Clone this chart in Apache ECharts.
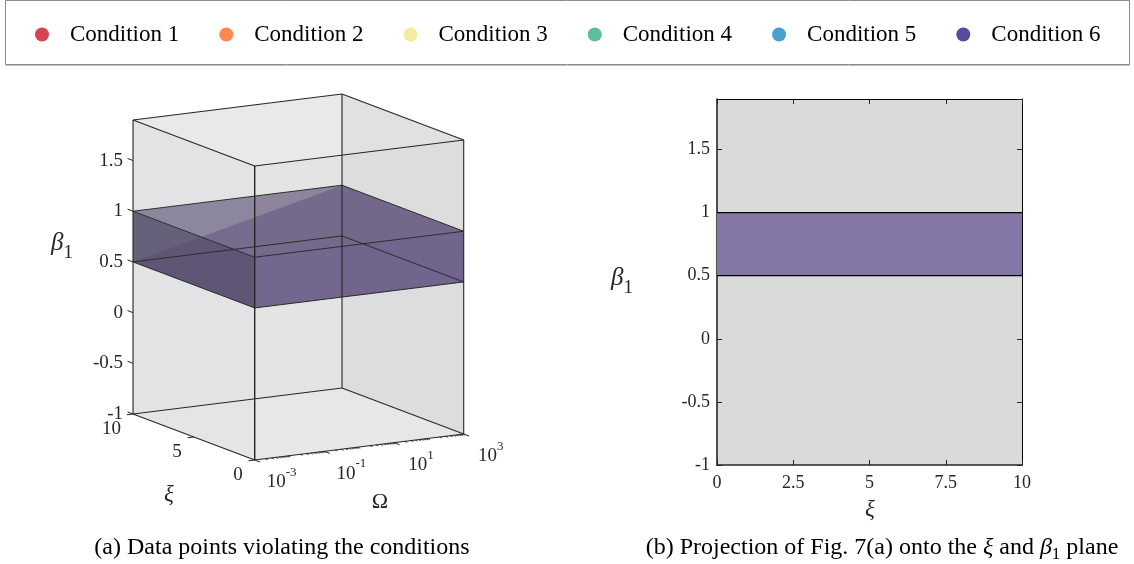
<!DOCTYPE html>
<html>
<head>
<meta charset="utf-8">
<script src="https://cdn.jsdelivr.net/npm/echarts@6/dist/echarts.min.js"></script>
<style>
  html, body { margin: 0; padding: 0; background: #fff; }
  #chart { width: 1134px; height: 564px; }
</style>
</head>
<body>
<div id="chart"></div>
<script>
// ---- data ----
const conditionNames = ['Condition 1', 'Condition 2', 'Condition 3', 'Condition 4', 'Condition 5', 'Condition 6'];
const conditionColors = ['#d9434f', '#fa8a4c', '#f3eca0', '#5fbd9e', '#4c9dd0', '#5a4a9d'];
const betaRange = [-1, 1.9];
const betaTicks = [-1, -0.5, 0, 0.5, 1, 1.5];
const xiRange = [0, 10];
const xiTicks3d = [0, 5, 10];
const xiTicks2d = [0, 2.5, 5, 7.5, 10];
const omegaRange = [1e-3, 1e3];
const omegaTicks = [1e-3, 1e-1, 1e1, 1e3];
const omegaTickExp = ['-3', '-1', '1', '3'];
// beta_1 interval in which Condition 6 is violated (whole xi / Omega range)
const violationBand = [0.5, 1];

// ---- style constants ----
const SERIF = '"Liberation Serif", "Times New Roman", serif';
const INK = '#262626';
const XI_SHIFT = [121.7, 46];   // screen offset of the xi = 0 edge relative to the xi = 10 wall
const OMEGA_RISE = 26;          // vertical rise across the full Omega range

// oblique projection: Omega and beta go through the library axes, xi adds a skew offset
function makeProjector(params, api) {
  const cs = params.coordSys;
  return function (omega, xi, beta) {
    const p = api.coord([omega, beta]);
    const t = (xiRange[1] - xi) / (xiRange[1] - xiRange[0]);
    return [
      p[0] + t * XI_SHIFT[0],
      p[1] - (p[0] - cs.x) / cs.width * OMEGA_RISE + t * XI_SHIFT[1]
    ];
  };
}

function boxCorners(P, b0, b1) {
  const o0 = omegaRange[0], o1 = omegaRange[1], x0 = xiRange[0], x1 = xiRange[1];
  return {
    L0: P(o0, x1, b0), F0: P(o0, x0, b0), R0: P(o1, x0, b0), B0: P(o1, x1, b0),
    L1: P(o0, x1, b1), F1: P(o0, x0, b1), R1: P(o1, x0, b1), B1: P(o1, x1, b1)
  };
}

function poly(points, fill) {
  return { type: 'polygon', shape: { points: points }, style: { fill: fill, stroke: 'none' }, silent: true };
}
function seg(a, b, color, w) {
  return { type: 'line', shape: { x1: a[0], y1: a[1], x2: b[0], y2: b[1] }, style: { stroke: color, lineWidth: w }, silent: true };
}
function boxEdges(c, color, w) {
  return [
    seg(c.L0, c.F0, color, w), seg(c.F0, c.R0, color, w), seg(c.R0, c.B0, color, w), seg(c.B0, c.L0, color, w),
    seg(c.L1, c.F1, color, w), seg(c.F1, c.R1, color, w), seg(c.R1, c.B1, color, w), seg(c.B1, c.L1, color, w)
  ];
}

// back walls of the 3D frame
function renderBoxBack(params, api) {
  const P = makeProjector(params, api);
  const c = boxCorners(P, betaRange[0], betaRange[1]);
  return {
    type: 'group',
    children: [
      poly([c.L0, c.F0, c.R0, c.B0], 'rgba(150,150,150,0.10)'),
      poly([c.L0, c.B0, c.B1, c.L1], 'rgba(150,150,150,0.13)'),
      poly([c.B0, c.R0, c.R1, c.B1], 'rgba(140,140,140,0.20)')
    ]
  };
}

// Condition 6 slab inside the 3D frame
function renderBand3d(params, api) {
  const P = makeProjector(params, api);
  const lo = api.value(2), hi = api.value(3);
  const c = boxCorners(P, lo, hi);
  const children = [
    poly([c.L0, c.F0, c.R0, c.B0], 'rgba(95,80,140,0.45)'),
    poly([c.B0, c.R0, c.R1, c.B1], 'rgba(95,80,140,0.45)'),
    poly([c.L0, c.B0, c.B1], 'rgba(95,80,140,0.45)'),
    poly([c.L0, c.B1, c.L1], 'rgba(95,80,140,0.06)'),
    poly([c.L1, c.F1, c.R1, c.B1], 'rgba(51,34,84,0.5)'),
    poly([c.F0, c.R0, c.R1, c.F1], 'rgba(58,37,100,0.55)'),
    poly([c.L0, c.F0, c.F1, c.L1], 'rgba(66,56,90,0.82)')
  ];
  return { type: 'group', children: children.concat(boxEdges(c, '#1c1c1c', 1)) };
}

// front walls, edges, ticks and tick labels of the 3D frame
function renderBoxFront(params, api) {
  const P = makeProjector(params, api);
  const c = boxCorners(P, betaRange[0], betaRange[1]);
  const children = [
    poly([c.L0, c.F0, c.F1, c.L1], 'rgba(140,150,160,0.15)'),
    poly([c.F0, c.R0, c.R1, c.F1], 'rgba(150,150,150,0.13)'),
    poly([c.L1, c.F1, c.R1, c.B1], 'rgba(150,150,150,0.09)')
  ].concat(boxEdges(c, INK, 1.1));
  // vertical edges
  children.push(seg(c.L0, c.L1, INK, 1.1), seg(c.F0, c.F1, INK, 1.4), seg(c.R0, c.R1, INK, 1.1), seg(c.B0, c.B1, INK, 1.1));

  // beta ticks on the back-left vertical edge
  betaTicks.forEach(function (b) {
    children.push(seg(P(omegaRange[0], xiRange[1] + 0.45, b), P(omegaRange[0], xiRange[1], b), INK, 1));
  });

  // xi ticks and labels on the lower-left edge
  const lo = Math.log10(omegaRange[0]), hi = Math.log10(omegaRange[1]);
  const back = Math.pow(10, lo - 0.18);
  xiTicks3d.forEach(function (x) {
    const p = P(omegaRange[0], x, betaRange[0]);
    children.push(seg(p, P(back, x, betaRange[0]), INK, 1));
    children.push({
      type: 'text', x: p[0] - 12, y: p[1] + 15, silent: true,
      style: { text: String(x), fill: INK, font: '19px ' + SERIF, align: 'right', verticalAlign: 'middle' }
    });
  });

  // Omega ticks (major + log minor) on the lower-front edge
  for (let d = Math.floor(lo); d < Math.ceil(hi); d++) {
    for (let k = 2; k <= 9; k++) {
      const v = k * Math.pow(10, d);
      children.push(seg(P(v, xiRange[0], betaRange[0]), P(v, xiRange[0] - 0.22, betaRange[0]), INK, 0.8));
    }
  }
  omegaTicks.forEach(function (v, i) {
    const p = P(v, xiRange[0], betaRange[0]);
    children.push(seg(p, P(v, xiRange[0] - 0.45, betaRange[0]), INK, 1));
    children.push({
      type: 'text', x: p[0] + 27, y: p[1] + 19, silent: true,
      style: {
        text: '{b|10}{s|' + omegaTickExp[i] + '}',
        fill: INK, align: 'center', verticalAlign: 'middle',
        rich: {
          b: { fontSize: 19, fontFamily: SERIF, fill: INK, lineHeight: 26, verticalAlign: 'bottom' },
          s: { fontSize: 13, fontFamily: SERIF, fill: INK, verticalAlign: 'top' }
        }
      }
    });
  });
  return { type: 'group', children: children };
}

// Condition 6 band in the xi / beta_1 projection
function renderBand2d(params, api) {
  const a = api.coord([api.value(0), api.value(3)]);
  const b = api.coord([api.value(1), api.value(2)]);
  return {
    type: 'group',
    children: [
      { type: 'rect', shape: { x: a[0], y: a[1], width: b[0] - a[0], height: b[1] - a[1] },
        style: { fill: '#8477a8', stroke: 'none' } },
      seg([a[0], a[1]], [b[0], a[1]], '#000', 1.2),
      seg([a[0], b[1]], [b[0], b[1]], '#000', 1.2)
    ]
  };
}

const betaLabel = function (v) { return betaTicks.indexOf(v) >= 0 ? String(v) : ''; };
const subRich = function (big, small) {
  return {
    g: { fontSize: big, fontFamily: SERIF, fontStyle: 'italic', fill: INK, lineHeight: 32, verticalAlign: 'top' },
    s: { fontSize: small, fontFamily: SERIF, fill: INK, verticalAlign: 'bottom' }
  };
};

const legendSeries = conditionNames.slice(0, 5).map(function (name, i) {
  return { name: name, type: 'scatter', xAxisIndex: 1, yAxisIndex: 1, data: [],
    itemStyle: { color: conditionColors[i], opacity: 1 } };
});

const frameAxisLine = function (color, width) {
  return { show: true, onZero: false, lineStyle: { color: color, width: width } };
};
const innerTick = { show: true, inside: true, length: 5, lineStyle: { color: INK } };

const option = {
  animation: false,
  backgroundColor: '#fff',
  legend: {
    data: conditionNames,
    left: 30, top: 18,
    icon: 'circle', itemWidth: 46, itemHeight: 14, itemGap: 40,
    textStyle: { fontFamily: SERIF, fontSize: 23, color: '#000' }
  },
  grid: [
    { left: 133, top: 120, width: 209, height: 294, show: false },
    { left: 717, top: 99, width: 305, height: 366, show: true, backgroundColor: '#dadada', borderWidth: 0 }
  ],
  xAxis: [
    { gridIndex: 0, type: 'log', logBase: 10, min: omegaRange[0], max: omegaRange[1], show: false },
    { gridIndex: 1, type: 'value', min: xiRange[0], max: xiRange[1], interval: 2.5, position: 'bottom',
      axisLine: frameAxisLine(INK, 1.6), axisTick: innerTick,
      axisLabel: { margin: 9, fontSize: 18, fontFamily: SERIF, color: INK,
        formatter: function (v) { return xiTicks2d.indexOf(v) >= 0 ? String(v) : ''; } },
      splitLine: { show: false } },
    { gridIndex: 1, type: 'value', min: xiRange[0], max: xiRange[1], interval: 2.5, position: 'top',
      axisLine: frameAxisLine('#000', 1), axisTick: innerTick,
      axisLabel: { show: false }, splitLine: { show: false } }
  ],
  yAxis: [
    { gridIndex: 0, type: 'value', min: betaRange[0], max: betaRange[1], interval: 0.5,
      axisLine: { show: false }, axisTick: { show: false }, splitLine: { show: false },
      axisLabel: { margin: 10, fontSize: 19, fontFamily: SERIF, color: INK, showMaxLabel: false, formatter: betaLabel } },
    { gridIndex: 1, type: 'value', min: betaRange[0], max: betaRange[1], interval: 0.5, position: 'left',
      axisLine: frameAxisLine(INK, 1.6), axisTick: innerTick,
      axisLabel: { margin: 7, fontSize: 18, fontFamily: SERIF, color: INK, showMaxLabel: false, formatter: betaLabel },
      splitLine: { show: false } },
    { gridIndex: 1, type: 'value', min: betaRange[0], max: betaRange[1], interval: 0.5, position: 'right',
      axisLine: frameAxisLine('#000', 1), axisTick: innerTick,
      axisLabel: { show: false }, splitLine: { show: false } }
  ],
  series: legendSeries.concat([
    { type: 'custom', name: 'frame', xAxisIndex: 0, yAxisIndex: 0, z: 1, clip: false, silent: true,
      renderItem: renderBoxBack, data: [[1, 0]] },
    { type: 'custom', name: 'Condition 6', xAxisIndex: 0, yAxisIndex: 0, z: 2, clip: false, silent: true,
      itemStyle: { color: conditionColors[5] }, encode: { x: [0, 1], y: [2, 3] },
      renderItem: renderBand3d, data: [[omegaRange[0], omegaRange[1], violationBand[0], violationBand[1]]] },
    { type: 'custom', name: 'frame', xAxisIndex: 0, yAxisIndex: 0, z: 3, clip: false, silent: true,
      renderItem: renderBoxFront, data: [[1, 0]] },
    { type: 'custom', name: 'Condition 6', xAxisIndex: 1, yAxisIndex: 1, z: 2, silent: true,
      itemStyle: { color: conditionColors[5] }, encode: { x: [0, 1], y: [2, 3] },
      renderItem: renderBand2d, data: [[xiRange[0], xiRange[1], violationBand[0], violationBand[1]]] }
  ]),
  graphic: [
    { type: 'rect', shape: { x: 5.5, y: 0.5, width: 1124, height: 64 }, style: { fill: 'none', stroke: '#8c8c8c', lineWidth: 1 }, silent: true },
    { type: 'line', shape: { x1: 5, y1: 65.5, x2: 1130, y2: 65.5 }, style: { stroke: '#c4c4c4', lineWidth: 1 }, silent: true },
    // 3D axis titles
    { type: 'text', x: 62, y: 247, silent: true,
      style: { text: '{g|β}{s|1}', rich: subRich(25, 19), align: 'center', verticalAlign: 'middle' } },
    { type: 'text', x: 169, y: 495, silent: true,
      style: { text: 'ξ', font: 'italic 23px ' + SERIF, fill: INK, align: 'center', verticalAlign: 'middle' } },
    { type: 'text', x: 380, y: 502, silent: true,
      style: { text: 'Ω', font: '22px ' + SERIF, fill: INK, align: 'center', verticalAlign: 'middle' } },
    // projection axis titles
    { type: 'text', x: 622, y: 282, silent: true,
      style: { text: '{g|β}{s|1}', rich: subRich(25, 19), align: 'center', verticalAlign: 'middle' } },
    { type: 'text', x: 870, y: 510, silent: true,
      style: { text: 'ξ', font: 'italic 23px ' + SERIF, fill: INK, align: 'center', verticalAlign: 'middle' } },
    // captions
    { type: 'text', x: 282, y: 548, silent: true,
      style: { text: '(a) Data points violating the conditions', font: '24px ' + SERIF, fill: '#000', align: 'center', verticalAlign: 'middle' } },
    { type: 'text', x: 882, y: 548, silent: true,
      style: {
        text: '{t|(b) Projection of Fig. 7(a) onto the }{i|ξ}{t| and }{i|β}{u|1}{t| plane}',
        align: 'center', verticalAlign: 'middle',
        rich: {
          t: { fontSize: 24, fontFamily: SERIF, fill: '#000', lineHeight: 30, verticalAlign: 'middle' },
          i: { fontSize: 24, fontFamily: SERIF, fontStyle: 'italic', fill: '#000', lineHeight: 30, verticalAlign: 'middle' },
          u: { fontSize: 17, fontFamily: SERIF, fill: '#000', verticalAlign: 'bottom', lineHeight: 30 }
        }
      } }
  ]
};

const chart = echarts.init(document.getElementById('chart'));
chart.setOption(option);
</script>
</body>
</html>
